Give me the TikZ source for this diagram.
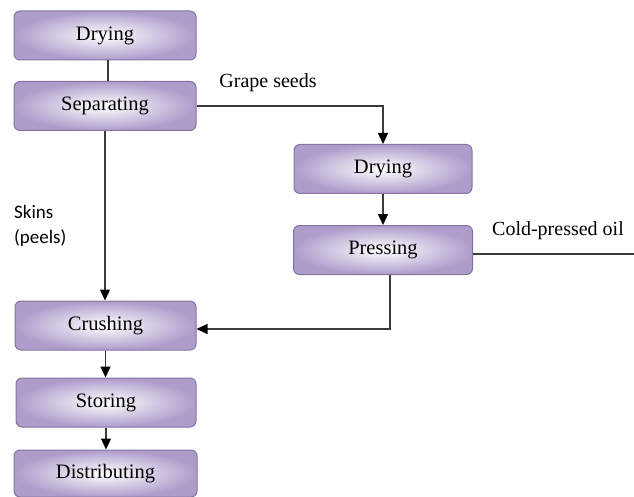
\documentclass[tikz,border=0pt]{standalone}
\usepackage{fontspec}
\setmainfont{Liberation Serif}
\newfontfamily\skinfont{Carlito}
\usetikzlibrary{arrows.meta}
\definecolor{boxedge}{HTML}{85749F}
\definecolor{boxouter}{HTML}{AE9CCB}
\definecolor{linecol}{HTML}{3A3A3A}
\begin{document}
\begin{tikzpicture}[x=1pt,y=-1pt,
  stagebox/.style={draw=boxedge, line width=1pt, rounded corners=6pt, shading=radial,
    inner color=white, outer color=boxouter, minimum width=182pt, minimum height=49pt,
    font=\fontsize{20.5}{24}\selectfont, inner sep=0pt},
  conn/.style={draw=linecol, line width=1.3pt},
  arr/.style={conn, -{Triangle[length=11pt,width=10pt,color=black]}},
  lbl/.style={font=\fontsize{20}{24}\selectfont, inner sep=0pt}]
\useasboundingbox (0,0) rectangle (634,497);
\node[stagebox] (dry1) at (105,35.5) {Drying};
\node[stagebox] (sep) at (105,106) {Separating};
\node[stagebox, minimum width=178pt] (dry2) at (383,169) {Drying};
\node[stagebox, minimum width=179pt] (press) at (383,250) {Pressing};
\node[stagebox, minimum width=181pt] (crush) at (105.5,325.5) {Crushing};
\node[stagebox, minimum width=180pt] (store) at (106,402.5) {Storing};
\node[stagebox, minimum width=183pt, minimum height=47pt] (dist) at (105.5,473.5) {Distributing};

\node[lbl] (seedlbl) at (268,83) {Grape seeds};
\node[lbl] (oillbl) at (558,231) {Cold-pressed oil};
\node[font=\skinfont\fontsize{19}{25}\selectfont, align=left, anchor=west, inner sep=0pt] (skinlbl) at (14,226) {Skins\\(peels)};

\coordinate (oilend) at (634,254);
\coordinate (bend) at (390,329);

\draw[conn] ([xshift=3pt]dry1.south) -- ([xshift=3pt]sep.north);
\draw[arr] (sep.east) -| (dry2.north);
\draw[arr] (sep.south) -- (sep.south |- crush.north);
\draw[arr] (dry2.south) -- (dry2.south |- press.north);
\draw[conn] (press.east |- oilend) -- (oilend);
\draw[arr] (press.south -| bend) -- (bend) -- (crush.east |- bend);
\draw[arr] (crush.south) -- (crush.south |- store.north);
\draw[arr] (store.south) -- (store.south |- dist.north);
\end{tikzpicture}
\end{document}
